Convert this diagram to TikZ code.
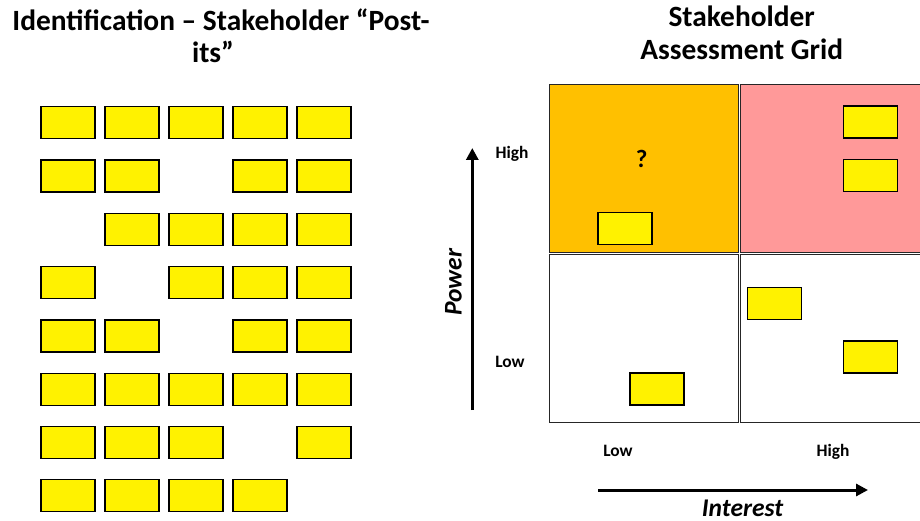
\documentclass[tikz,border=0pt]{standalone}
\usepackage{fontspec}
\setmainfont{Carlito}
\usepackage{tikz}
\usetikzlibrary{arrows.meta}
\definecolor{quadorange}{RGB}{255,192,0}
\definecolor{quadpink}{RGB}{255,153,153}

\begin{document}
\begin{tikzpicture}[x=1pt,y=-1pt,>={Stealth[length=12pt,width=12pt,inset=0pt]},
    postit/.style={draw=black,line width=1.2pt,fill=yellow,minimum width=54pt,
      minimum height=32pt,inner sep=0pt},
    quad/.style={draw=black!85,line width=1pt,minimum width=189pt,
      minimum height=168pt,inner sep=0pt,anchor=north west},
    title/.style={font=\fontsize{29.4}{34}\selectfont\bfseries,anchor=base},
    lbl/.style={font=\fontsize{17.4}{20}\selectfont\bfseries,anchor=base},
    axis/.style={font=\fontsize{25.5}{29}\selectfont\bfseries\itshape,anchor=base,
      inner sep=0pt}]
  \useasboundingbox (0,0) rectangle (920,521);

  % left: stakeholder post-its
  \node[title] (idtitle) at (221,30.7) {Identification – Stakeholder “Post-};
  \node[title] (idtitle2) at (213,63) {its”};
  \foreach \r/\cols in {1/{1,2,3,4,5},2/{1,2,4,5},3/{2,3,4,5},4/{1,3,4,5},
      5/{1,2,4,5},6/{1,2,3,4,5},7/{1,2,3,5},8/{1,2,3,4}}
    \foreach \c in \cols
      \node[postit] (p\r\c) at ({4+64*\c},{69.4+53.3*\r}) {};

  % right: assessment grid
  \node[title] (gridtitle) at (741.7,26.7) {Stakeholder};
  \node[title] (gridtitle2) at (741.7,59.3) {Assessment Grid};
  \node[quad,fill=quadorange] (qhl) at (549,84) {};
  \node[quad,fill=quadpink] (qhh) at (740,84) {};
  \node[quad,fill=white] (qll) at (549,254) {};
  \node[quad,fill=white] (qlh) at (740,254) {};
  \node[lbl,font=\fontsize{25}{28}\selectfont\bfseries] (unknown) at (641.7,167.7) {?};

  \node[postit] (g1) at (625,228.6) {};
  \node[postit] (g2) at (870.7,122) {};
  \node[postit] (g3) at (870.7,175.5) {};
  \node[postit] (g4) at (774.3,303.7) {};
  \node[postit] (g5) at (870.7,357) {};
  \node[postit] (g6) at (657,389) {};

  % axes
  \coordinate (pwrlo) at (472.3,410);
  \coordinate (pwrhi) at (472.3,148);
  \coordinate (intlo) at (598,490);
  \coordinate (inthi) at (868,490);
  \draw[->,line width=3pt] (pwrlo) -- (pwrhi);
  \draw[->,line width=3pt] (intlo) -- (inthi);
  \node[axis,rotate=90] (power) at (461.7,282) {Power};
  \node[axis] (interest) at (742.5,516.2) {Interest};
  \node[lbl] (pwrhigh) at (512,158.3) {High};
  \node[lbl] (pwrlow) at (510,367.3) {Low};
  \node[lbl] (intlow) at (618,456) {Low};
  \node[lbl] (inthigh) at (833,456) {High};
\end{tikzpicture}
\end{document}
